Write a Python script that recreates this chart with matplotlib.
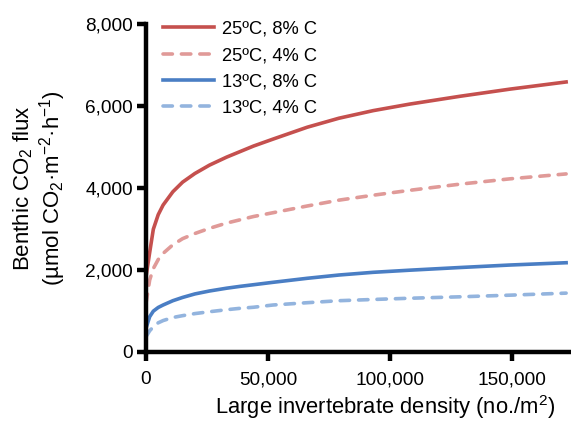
import matplotlib
matplotlib.use("Agg")
import matplotlib.pyplot as plt

plt.rcParams['font.family'] = ['Liberation Sans', 'DejaVu Sans']
plt.rcParams['mathtext.fontset'] = 'custom'
plt.rcParams['mathtext.rm'] = 'Liberation Sans'

# densidade (no./m2)
density = [0, 1500, 3000, 5000, 7000, 11000, 15000, 20000, 26000, 33000, 38500,
           44000, 52000, 66000, 79000, 93000, 108000, 128500, 149000, 172000]

# fluxo de CO2 por tratamento
warm_8c = [1831, 2420, 2990, 3345, 3580, 3905, 4140, 4350, 4555, 4750, 4885,
           5020, 5190, 5480, 5700, 5885, 6045, 6235, 6410, 6585]
warm_4c = [1181, 1750, 2030, 2250, 2400, 2610, 2760, 2885, 3012, 3140, 3220,
           3300, 3393, 3557, 3700, 3820, 3940, 4090, 4220, 4340]
cold_8c = [571, 854, 990, 1080, 1140, 1245, 1325, 1410, 1482, 1550, 1595,
           1635, 1694, 1792, 1872, 1938, 1990, 2055, 2116, 2172]
cold_4c = [366, 510, 610, 705, 760, 835, 880, 930, 976, 1025, 1059,
           1085, 1140, 1196, 1245, 1275, 1305, 1340, 1380, 1430]

labels = ['25ºC, 8% C', '25ºC, 4% C', '13ºC, 8% C', '13ºC, 4% C']
x_ticks = [0, 50000, 100000, 150000]
y_ticks = [0, 2000, 4000, 6000, 8000]

fig = plt.figure(figsize=(5.71, 4.22), dpi=100)
ax = fig.add_axes([146 / 571, 1 - 351.7 / 422, 425 / 571, 327.7 / 422])

lw = 2.6
dash = (2.6, 2.5)
ax.plot(density, warm_8c, color='#c5504e', lw=lw, label=labels[0])
ax.plot(density, warm_4c, color='#e09a98', lw=lw, dashes=dash,
        dash_capstyle='round', label=labels[1])
ax.plot(density, cold_8c, color='#4a7ec4', lw=lw, label=labels[2])
ax.plot(density, cold_4c, color='#93b4de', lw=lw, dashes=dash,
        dash_capstyle='round', label=labels[3])

ax.set_xlim(0, 174000)
ax.set_ylim(0, 8000)
ax.set_xticks(x_ticks)
ax.set_xticklabels([f'{v:,}' for v in x_ticks])
ax.set_yticks(y_ticks)
ax.set_yticklabels([f'{v:,}' for v in y_ticks])

for side in ['top', 'right']:
    ax.spines[side].set_visible(False)
for side in ['left', 'bottom']:
    ax.spines[side].set_linewidth(3.2)
ax.tick_params(direction='out', length=6.5, width=3.2, labelsize=13.7)
ax.tick_params(axis='x', pad=7.5)
ax.tick_params(axis='y', pad=3)

ax.set_xlabel('Large invertebrate density (no./m$\\mathregular{^2}$)', fontsize=15.8)
ax.xaxis.label.set_va('baseline')
ax.xaxis.set_label_coords(0.5635, -0.19)
ax.set_ylabel('Benthic CO$\\mathregular{_2}$ flux\n'
              '(µmol CO$\\mathregular{_2}$·m$\\mathregular{^{-2}}$·h$\\mathregular{^{-1}}$)',
              fontsize=16, linespacing=1.1)
ax.yaxis.set_label_coords(-0.183, 0.5)

ax.legend(loc='upper left', bbox_to_anchor=(0.0, 1.06), frameon=False,
          fontsize=13.2, handlelength=2.8, handletextpad=0.45, labelspacing=0.5)

fig.savefig('out.png', dpi=100)
